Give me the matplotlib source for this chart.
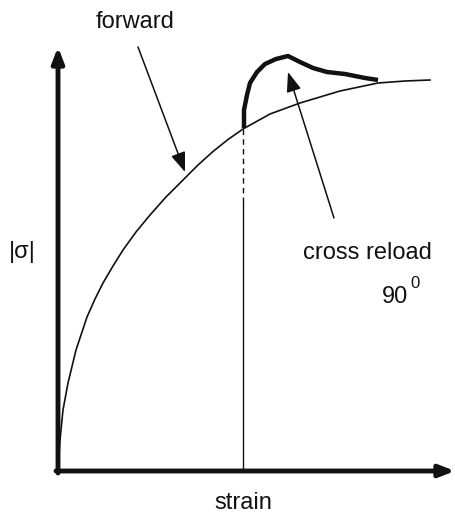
import matplotlib
matplotlib.use("Agg")
import matplotlib.pyplot as plt

plt.rcParams["font.family"] = ["Liberation Sans", "DejaVu Sans"]

# monotonic (forward) loading curve
forward_strain = [0.0, 0.01, 0.02, 0.05, 0.10, 0.18, 0.29, 0.37, 0.45, 0.55, 0.65,
                  0.78, 0.92, 1.08, 1.25, 1.40, 1.55, 1.70, 1.85, 2.12, 2.42,
                  2.82, 3.20, 3.47, 3.72]
forward_stress = [0.0, 0.16, 0.31, 0.61, 0.88, 1.21, 1.54, 1.72, 1.88, 2.05, 2.21,
                  2.39, 2.56, 2.74, 2.91, 3.06, 3.195, 3.315, 3.42, 3.57, 3.68,
                  3.80, 3.88, 3.90, 3.91]

# reload in the cross (90 deg) direction
cross_strain = [1.86, 1.86, 1.86, 1.89, 1.92, 1.99, 2.07, 2.18, 2.30, 2.42,
                2.55, 2.69, 2.87, 3.07, 3.20]
cross_stress = [3.43, 3.53, 3.61, 3.76, 3.88, 3.99, 4.07, 4.12, 4.15, 4.09,
                4.03, 3.99, 3.97, 3.93, 3.91]

unload_strain = 1.85
unload_stress = 3.42
dash_end = 2.68

fig = plt.figure(figsize=(4.55, 5.14), dpi=100)
ax = fig.add_axes([0, 0, 1, 1])
ax.set_xlim(-0.58, 3.97)
ax.set_ylim(-0.43, 4.71)
ax.axis("off")

# axes with arrow heads
arrow = dict(arrowstyle="-|>,head_length=0.9,head_width=0.35", color="#111111",
             lw=3.5, shrinkA=0, shrinkB=0)
ax.annotate("", xy=(0, 4.24), xytext=(0, -0.02), arrowprops=arrow)
ax.annotate("", xy=(3.97, 0), xytext=(-0.02, 0), arrowprops=arrow)

ax.plot(forward_strain, forward_stress, color="#111111", lw=1.2)
ax.plot(cross_strain, cross_stress, color="#111111", lw=3.2, solid_capstyle="butt")

ax.plot([unload_strain, unload_strain], [unload_stress, dash_end], color="#111111",
        lw=1.0, ls=(0, (4, 3)))
ax.plot([unload_strain, unload_strain], [dash_end, 0], color="#111111", lw=1.0)

pointer = dict(arrowstyle="-|>,head_length=1.2,head_width=0.45", color="#111111",
               lw=1.1, shrinkA=0, shrinkB=0)
ax.annotate("", xy=(1.27, 2.99), xytext=(0.80, 4.24), arrowprops=pointer)
ax.annotate("", xy=(2.30, 3.99), xytext=(2.76, 2.53), arrowprops=pointer)

fs = 17
ax.text(0.77, 4.49, "forward", fontsize=fs, ha="center", va="center", color="#111111")
ax.text(2.45, 2.18, "cross reload", fontsize=fs, ha="left", va="center", color="#111111")
ax.text(3.37, 1.74, "90", fontsize=fs, ha="center", va="center", color="#111111")
ax.text(3.57, 1.88, "0", fontsize=12, ha="center", va="center", color="#111111")
ax.text(1.85, -0.32, "strain", fontsize=fs, ha="center", va="center", color="#111111")
ax.text(-0.36, 2.19, "|σ|", fontsize=fs, ha="center", va="center", color="#111111")

fig.savefig("out.png", dpi=100)
